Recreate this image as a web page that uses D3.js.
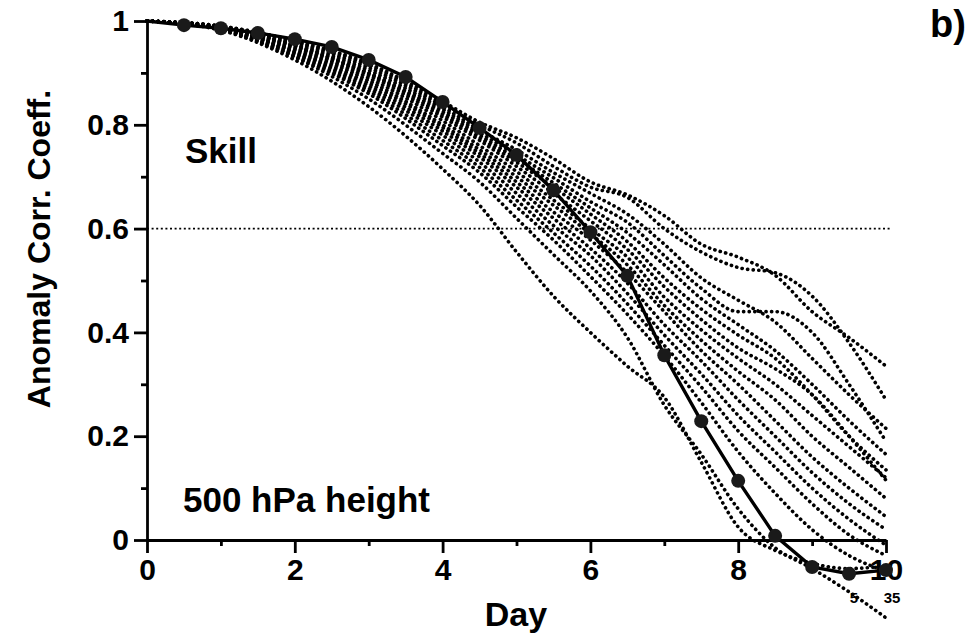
<!DOCTYPE html>
<html lang="en">
<head>
<meta charset="UTF-8">
<title>Anomaly correlation skill, 500 hPa height</title>
<script src="https://cdn.jsdelivr.net/npm/d3@7/dist/d3.min.js"></script>
<style>
  body { margin: 0; background: #fff; }
  svg { display: block; font-family: "Liberation Sans", Arial, Helvetica, sans-serif; font-weight: bold; }
  .ens { fill: none; stroke: #000; stroke-width: 3.6; stroke-dasharray: 0.2 5.4; stroke-linecap: round; }
  .ctrl { fill: none; stroke: #000; stroke-width: 3.4; }
  .axis path, .axis line { stroke: #000; stroke-width: 2.8; }
  .axis text { font-size: 30px; font-weight: bold; fill: #000; }
</style>
</head>
<body>
<svg width="975" height="639"></svg>
<script>
// forecast days for ensemble members
const days = [0, 1, 2, 3, 4, 4.5, 5, 5.5, 6, 6.5, 7, 7.5, 8, 8.5, 9, 9.5, 10];

// perturbed members (dotted)
const m01 = [1, .990, .962, .918, .845, .805, .775, .735, .690, .665, .625, .570, .545, .510, .440, .390, .335];
const m02 = [1, .990, .960, .915, .840, .800, .765, .720, .680, .660, .600, .555, .525, .515, .470, .380, .270];
const m03 = [1, .990, .958, .910, .835, .790, .752, .708, .668, .628, .570, .505, .462, .420, .350, .280, .215];
const m04 = [1, .988, .955, .905, .830, .785, .742, .698, .652, .612, .548, .485, .440, .440, .400, .300, .190];
const m05 = [1, .988, .953, .900, .825, .780, .735, .688, .640, .592, .530, .465, .415, .365, .300, .230, .165];
const m06 = [1, .988, .952, .898, .820, .775, .728, .680, .628, .575, .505, .445, .395, .350, .280, .200, .135];
const m07 = [1, .987, .950, .895, .815, .770, .720, .668, .615, .560, .488, .425, .370, .330, .280, .200, .115];
const m08 = [1, .987, .948, .890, .808, .760, .710, .655, .600, .545, .468, .405, .350, .300, .240, .180, .120];
const m09 = [1, .986, .945, .885, .800, .752, .700, .645, .590, .530, .452, .385, .325, .270, .200, .140, .080];
const m10 = [1, .986, .942, .880, .795, .745, .690, .632, .578, .515, .440, .365, .300, .230, .160, .100, .045];
const m11 = [1, .985, .940, .875, .788, .738, .680, .620, .562, .495, .415, .345, .270, .200, .130, .070, .020];
const m12 = [1, .985, .938, .870, .780, .728, .668, .606, .548, .475, .395, .320, .240, .170, .100, .040, -.010];
const m13 = [1, .984, .935, .865, .770, .718, .655, .592, .528, .455, .375, .295, .210, .140, .070, .010, -.030];
const m14 = [1, .984, .932, .860, .760, .708, .642, .578, .508, .435, .355, .265, .170, .090, .020, -.030, -.060];
const m15 = [1, .983, .930, .850, .745, .690, .620, .550, .480, .390, .260, .165, .060, -.015, -.055, -.100, -.150];
const m16 = [1, .982, .925, .835, .715, .645, .555, .470, .400, .335, .275, .150, .025, -.020, -.045, -.055, -.050];
const members = [m01, m02, m03, m04, m05, m06, m07, m08, m09, m10, m11, m12, m13, m14, m15, m16];

// control forecast (solid with dots)
const ctrlDays = [0, 0.5, 1, 1.5, 2, 2.5, 3, 3.5, 4, 4.5, 5, 5.5, 6, 6.5, 7, 7.5, 8, 8.5, 9, 9.5, 10];
const ctrlAcc = [1, .992, .986, .977, .965, .950, .925, .892, .844, .794, .742, .674, .593, .509, .356, .229, .114, .008, -.052, -.065, -.058];

const xTicks = [0, 2, 4, 6, 8, 10];
const xMinor = [1, 3, 5, 7, 9];
const yTicks = [0, 0.2, 0.4, 0.6, 0.8, 1];
const yMinor = [0.1, 0.3, 0.5, 0.7, 0.9];
const skillLevel = 0.6;

const svg = d3.select("svg");
const x = d3.scaleLinear().domain([0, 10]).range([147, 886]);
const y = d3.scaleLinear().domain([0, 1]).range([540, 21]);

// minor ticks
svg.append("g").attr("class", "axis").attr("transform", "translate(0,540)")
  .call(d3.axisBottom(x).tickValues(xMinor).tickSize(6).tickFormat(""))
  .call(g => g.select(".domain").remove());
svg.append("g").attr("class", "axis").attr("transform", "translate(147,0)")
  .call(d3.axisLeft(y).tickValues(yMinor).tickSize(6).tickFormat(""))
  .call(g => g.select(".domain").remove());

// major axes
svg.append("g").attr("class", "axis").attr("transform", "translate(0,540)")
  .call(d3.axisBottom(x).tickValues(xTicks).tickSize(13).tickSizeOuter(0).tickPadding(6).tickFormat(d3.format("d")));
svg.append("g").attr("class", "axis").attr("transform", "translate(147,0)")
  .call(d3.axisLeft(y).tickValues(yTicks).tickSize(13).tickSizeOuter(0).tickPadding(5)
    .tickFormat(d => d === 0 || d === 1 ? d3.format("d")(d) : d3.format(".1f")(d)));

// 0.6 reference line
svg.append("line")
  .attr("x1", x(0)).attr("x2", x(10) + 4)
  .attr("y1", y(skillLevel)).attr("y2", y(skillLevel))
  .attr("stroke", "#000").attr("stroke-width", 1.8).attr("stroke-dasharray", "2 2.6");

const line = d3.line().curve(d3.curveMonotoneX);

svg.append("g").selectAll("path")
  .data(members)
  .join("path")
  .attr("class", "ens")
  .attr("d", vals => line(vals.map((v, i) => [x(days[i]), y(v)])));

svg.append("path")
  .attr("class", "ctrl")
  .attr("d", d3.line()(ctrlAcc.map((v, i) => [x(ctrlDays[i]), y(v)])));

svg.append("g").selectAll("circle")
  .data(ctrlAcc.slice(1))
  .join("circle")
  .attr("cx", (v, i) => x(ctrlDays[i + 1]))
  .attr("cy", v => y(v))
  .attr("r", 7)
  .attr("fill", "#1a1a1a");

// labels
svg.append("text").attr("x", 185).attr("y", 163).attr("font-size", 35).text("Skill");
svg.append("text").attr("x", 183).attr("y", 512).attr("font-size", 35).text("500 hPa height");
svg.append("text").attr("x", 930).attr("y", 37).attr("font-size", 38).text("b)");
svg.append("text").attr("x", 516).attr("y", 626).attr("font-size", 34).attr("text-anchor", "middle").text("Day");
svg.append("text")
  .attr("transform", "translate(50,249) rotate(-90)")
  .attr("font-size", 32).attr("text-anchor", "middle")
  .text("Anomaly Corr. Coeff.");
svg.append("text").attr("x", 854).attr("y", 603).attr("font-size", 15).attr("text-anchor", "middle").text("5");
svg.append("text").attr("x", 892).attr("y", 603).attr("font-size", 15).attr("text-anchor", "middle").text("35");
</script>
</body>
</html>
